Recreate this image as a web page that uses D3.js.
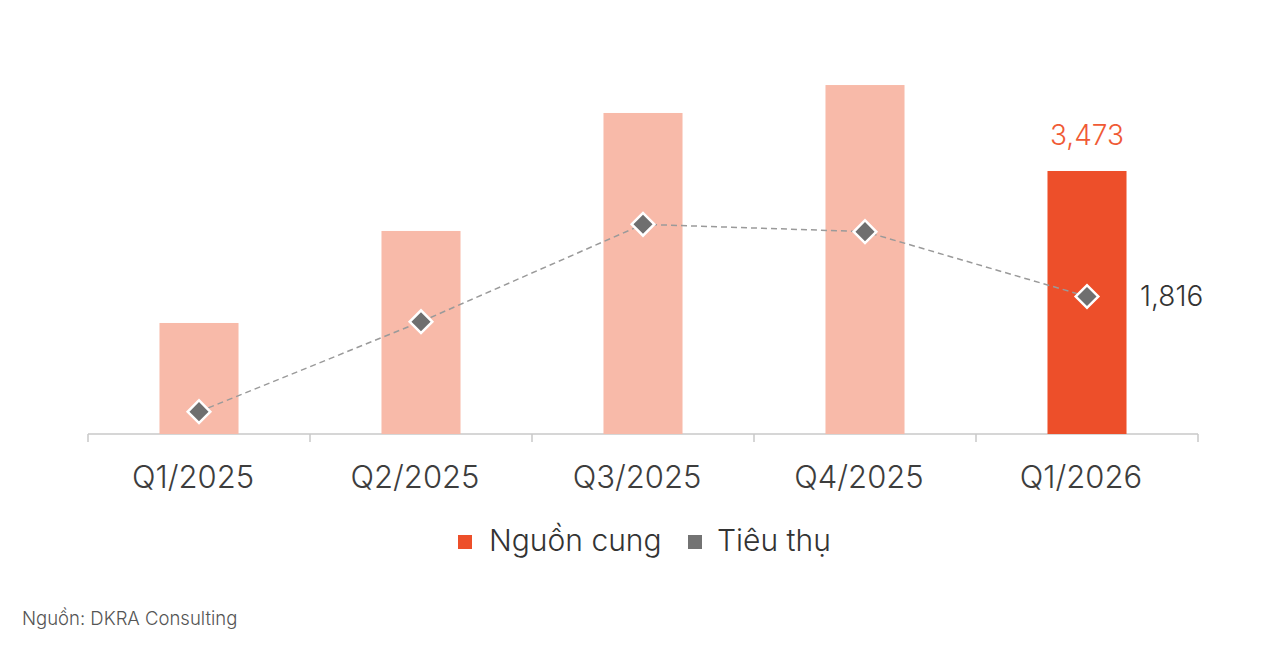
<!DOCTYPE html>
<html><head><meta charset="utf-8">
<script src="https://cdn.jsdelivr.net/npm/d3@7"></script>
<style>body{margin:0;background:#fff;} svg{display:block;font-family:Inter,"Noto Sans",sans-serif;}</style>
</head><body>
<svg id="c" width="1280" height="672"></svg>
<script>
const categories = ["Q1/2025","Q2/2025","Q3/2025","Q4/2025","Q1/2026"];
const supply = [1466, 2681, 4239, 4608, 3473];      // Nguồn cung
const absorption = [295, 1483, 2769, 2672, 1816];   // Tiêu thụ
const seriesNames = ["Nguồn cung","Tiêu thụ"];
const sourceText = "Nguồn: DKRA Consulting";

const svg = d3.select("#c");
const x = d3.scaleBand().domain(categories).range([88,1198]).paddingInner(0.644).paddingOuter(0.322);
const y = d3.scaleLinear().domain([0,5000]).range([434, 434-5000*0.07573]);
const fmt = d3.format(",");
const last = categories.length-1;

// axis
const ax = svg.append("g").attr("transform","translate(0,434)")
  .call(d3.axisBottom(x).tickSize(0).tickFormat(""));
ax.select(".domain").remove();
ax.append("line").attr("x1",88).attr("x2",1198).attr("stroke","#c9c9c9").attr("stroke-width",1.5);
const edges = categories.map(c=>x(c)-x.step()*x.paddingInner()/2).concat([1198]);
ax.selectAll("line.tk").data(edges).join("line").attr("class","tk")
  .attr("x1",d=>d).attr("x2",d=>d).attr("y1",0).attr("y2",8).attr("stroke","#c9c9c9").attr("stroke-width",1.5);
ax.selectAll(".tick text").remove();
svg.append("g").selectAll("text").data(categories).join("text")
  .attr("x",d=>x(d)+x.bandwidth()/2-6).attr("y",488).attr("text-anchor","middle")
  .attr("font-size",31).attr("font-weight",300).attr("fill","#3d3d3d").text(d=>d);

// bars
svg.append("g").selectAll("rect").data(supply).join("rect")
  .attr("x",(d,i)=>x(categories[i])).attr("width",x.bandwidth())
  .attr("y",d=>y(d)).attr("height",d=>y(0)-y(d))
  .attr("fill",(d,i)=>i===last?"#ED4F2A":"#F8BAA9");

// line
const line = d3.line().x((d,i)=>x(categories[i])+x.bandwidth()/2).y(d=>y(d));
svg.append("path").datum(absorption).attr("d",line).attr("fill","none")
  .attr("stroke","#9a9a9a").attr("stroke-width",1.5).attr("stroke-dasharray","6,4");
svg.append("g").selectAll("path").data(absorption).join("path")
  .attr("d",d3.symbol(d3.symbolSquare,256)())
  .attr("transform",(d,i)=>`translate(${x(categories[i])+x.bandwidth()/2},${y(d)}) rotate(45)`)
  .attr("fill","#6f6f6f").attr("stroke","#fff").attr("stroke-width",2.5);

// labels
svg.append("text").attr("x",x(categories[last])+x.bandwidth()/2).attr("y",y(supply[last])-26)
  .attr("text-anchor","middle").attr("font-size",28).attr("font-weight",300).attr("fill","#F05A35")
  .text(fmt(supply[last]));
svg.append("text").attr("x",x(categories[last])+x.bandwidth()/2+53).attr("y",y(absorption[last])+10)
  .attr("font-size",28).attr("font-weight",300).attr("fill","#333").text(fmt(absorption[last]));

// legend
const lg = svg.append("g");
lg.append("rect").attr("x",458).attr("y",535).attr("width",14).attr("height",14).attr("fill","#ED4F2A");
lg.append("text").attr("x",489).attr("y",551).attr("font-size",30).attr("font-weight",300).attr("fill","#333").text(seriesNames[0]);
lg.append("rect").attr("x",688).attr("y",535).attr("width",14).attr("height",14).attr("fill","#737373");
lg.append("text").attr("x",717).attr("y",551).attr("font-size",30).attr("font-weight",300).attr("fill","#333").text(seriesNames[1]);

svg.append("text").attr("x",22).attr("y",625).attr("font-size",18.5).attr("font-weight",300).attr("fill","#555").text(sourceText);
</script>
</body></html>
